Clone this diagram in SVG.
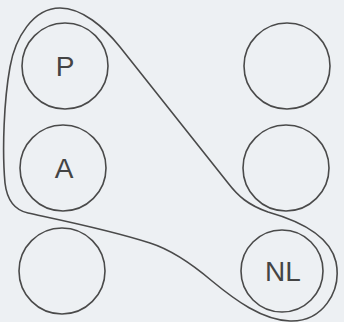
<svg xmlns="http://www.w3.org/2000/svg" width="344" height="322" viewBox="0 0 344 322">
<style>
.n{fill:none;stroke:#4a4a4a;stroke-width:1.6}
.t{font-family:"Liberation Sans",Arial,sans-serif;font-size:28px;fill:#444;text-anchor:middle}
.c{fill:none;stroke:#4a4a4a;stroke-width:1.6}
</style>
<rect width="344" height="322" fill="#edf0f3"/>
<g id="connectors">
<path class="c" d="M60,8 C82,8 104,27 120,47 L228,183 C238,196 248,205 268,212 C300,221 330,236 336,262 C342,292 322,322 290,321 C262,320 235,300 212,281 C192,264 172,250 150,243 C110,230 60,220 28,213 C14,210 7,200 5,183 C2,150 4,100 10,67 C15,38 33,8 60,8 Z"/>
</g>
<g id="P"><circle class="n" cx="65" cy="66" r="43"/><text class="t" x="65" y="76">P</text></g>
<g id="TR"><circle class="n" cx="287" cy="66" r="43"/></g>
<g id="A"><circle class="n" cx="63" cy="168" r="43"/><text class="t" x="64" y="178">A</text></g>
<g id="MR"><circle class="n" cx="286" cy="168" r="43"/></g>
<g id="BL"><circle class="n" cx="62" cy="271" r="43"/></g>
<g id="NL"><circle class="n" cx="282" cy="271" r="41"/><text class="t" x="283" y="281">NL</text></g>
</svg>
